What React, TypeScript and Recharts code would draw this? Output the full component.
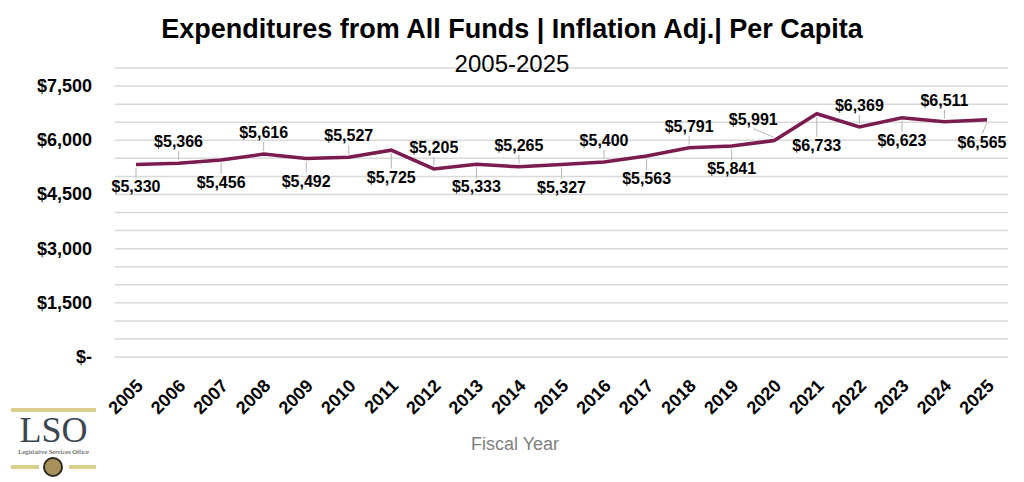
import React from "react"
import { LineChart, Line, XAxis, YAxis, CartesianGrid } from "recharts"

const years = ["2005", "2006", "2007", "2008", "2009", "2010", "2011", "2012", "2013", "2014", "2015", "2016", "2017", "2018", "2019", "2020", "2021", "2022", "2023", "2024", "2025"]
const perCapita = [5330, 5366, 5456, 5616, 5492, 5527, 5725, 5205, 5333, 5265, 5327, 5400, 5563, 5791, 5841, 5991, 6733, 6369, 6623, 6511, 6565]
const gridTicks = [0, 500, 1000, 1500, 2000, 2500, 3000, 3500, 4000, 4500, 5000, 5500, 6000, 6500, 7000, 7500, 8000]
const labelTicks = [0, 1500, 3000, 4500, 6000, 7500]

const data = years.map((year, i) => ({ year, value: perCapita[i] }))

const LINE = "#7b1c50"
const SANS = "'Liberation Sans', Arial, sans-serif"
const PX_PER_UNIT = 289 / 8000 // plot height / y max, used only to dodge labels off the line

const money = (v: number) => (v === 0 ? "$-" : `$${v.toLocaleString("en-US")}`)

function YTick({ y, payload }: any) {
  if (!labelTicks.includes(payload.value)) return null
  return (
    <text x={92} y={y} dy={6} textAnchor="end" fontFamily={SANS} fontWeight="bold" fontSize={18} fill="#000">
      {money(payload.value)}
    </text>
  )
}

function XTick({ x, payload }: any) {
  return (
    <text transform={`translate(${x + 8},387) rotate(-45)`} textAnchor="end" fontFamily={SANS} fontWeight="bold" fontSize={18} fill="#000">
      {payload.value}
    </text>
  )
}

function PointLabel({ x, y, value, index }: any) {
  const above = index % 2 === 1
  const prev = perCapita[index - 1] ?? value
  const next = perCapita[index + 1] ?? value
  let tx = index === perCapita.length - 1 ? x - 5 : x
  let ty = above ? y - 16 : y + 28
  if (above) {
    // line climbing steeply under the label: slide it sideways
    if ((next - value) * PX_PER_UNIT * 0.56 > 13) tx -= 21
    else if ((prev - value) * PX_PER_UNIT * 0.56 > 13) tx += 21
  } else {
    const drop = Math.max(value - prev, value - next) * PX_PER_UNIT * 0.56
    if (drop > 8) ty += drop - 6
  }
  return (
    <g>
      <line x1={x} y1={above ? y - 3 : y + 3} x2={tx} y2={above ? ty + 4 : ty - 14} stroke="#b5b5b5" strokeWidth={1} />
      <text x={tx} y={ty} textAnchor="middle" fontFamily={SANS} fontWeight="bold" fontSize={16} fill="#000">
        {money(value)}
      </text>
    </g>
  )
}

function Logo() {
  const gold = "#d9d08c"
  return (
    <div style={{ position: "absolute", left: 11, top: 408, width: 85, height: 72 }}>
      <div style={{ position: "absolute", left: 0, top: 0, width: 85, height: 4, background: gold }} />
      <div style={{ position: "absolute", left: 0, top: 4, width: 85, textAlign: "center", fontFamily: "'Liberation Serif', 'DejaVu Serif', serif", fontSize: 36, lineHeight: "36px", color: "#3b4651" }}>
        LSO
      </div>
      <div style={{ position: "absolute", left: 0, top: 40, width: 85, textAlign: "center", fontFamily: "'Liberation Serif', serif", fontSize: 6.5, color: "#333", whiteSpace: "nowrap" }}>
        Legislative Services Office
      </div>
      <div style={{ position: "absolute", left: 0, top: 57, width: 28, height: 4, background: gold }} />
      <div style={{ position: "absolute", left: 58, top: 57, width: 27, height: 4, background: gold }} />
      <div style={{ position: "absolute", left: 32, top: 49, width: 20, height: 20, borderRadius: "50%", background: "#a8925a", border: "2px solid #2f2a24", boxSizing: "border-box" }} />
    </div>
  )
}

export default function App() {
  return (
    <div style={{ position: "absolute", left: 0, top: 0, width: 1024, height: 482, background: "#fff", overflow: "hidden" }}>
      <div style={{ position: "absolute", left: 0, top: 12, width: 1024, textAlign: "center", fontFamily: SANS, fontWeight: "bold", fontSize: 27, lineHeight: "34px", color: "#000" }}>
        Expenditures from All Funds | Inflation Adj.| Per Capita
      </div>
      <LineChart width={1024} height={482} data={data} margin={{ top: 68, right: 16, bottom: 0, left: 0 }}>
        <CartesianGrid vertical={false} stroke="#d9d9d9" strokeWidth={1.5} />
        <XAxis dataKey="year" interval={0} height={125} padding={{ left: 21, right: 21 }} axisLine={false} tickLine={false} tick={<XTick />} />
        <YAxis width={115} domain={[0, 8000]} ticks={gridTicks} interval={0} axisLine={false} tickLine={false} tick={<YTick />} />
        <Line type="linear" dataKey="value" stroke={LINE} strokeWidth={3.5} dot={false} isAnimationActive={false} label={<PointLabel />} />
      </LineChart>
      <div style={{ position: "absolute", left: 0, top: 49, width: 1024, textAlign: "center", fontFamily: SANS, fontSize: 24, lineHeight: "30px", color: "#000" }}>
        2005-2025
      </div>
      <div style={{ position: "absolute", left: 0, top: 434, width: 1030, textAlign: "center", fontFamily: SANS, fontSize: 18, color: "#7f7f7f" }}>
        Fiscal Year
      </div>
      <Logo />
    </div>
  )
}
